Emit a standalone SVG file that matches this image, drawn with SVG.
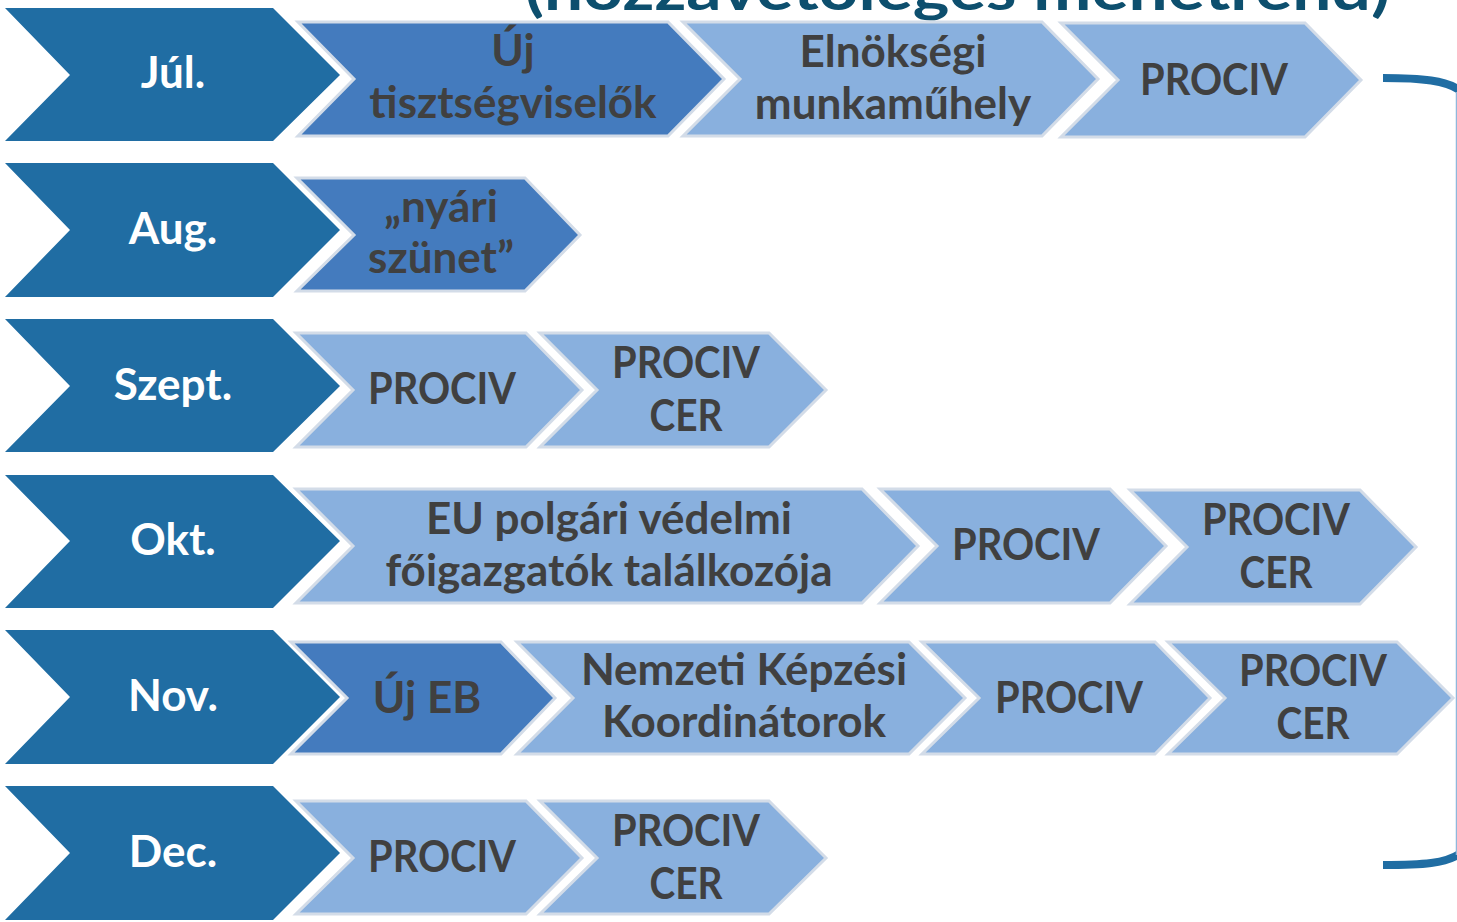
<svg xmlns="http://www.w3.org/2000/svg" width="1457" height="922" viewBox="0 0 1457 922">
<style>
.m{fill:#206DA3}
.d{fill:#447BBE;stroke:#d3dce8;stroke-width:3;stroke-linejoin:miter}
.l{fill:#89B0DE;stroke:#d3dce8;stroke-width:3;stroke-linejoin:miter}
.mt{font-family:Lato,"Liberation Sans",sans-serif;font-weight:700;font-size:44px;fill:#ffffff;text-anchor:middle}
.t{font-family:Lato,"Liberation Sans",sans-serif;font-weight:700;font-size:44px;fill:#404040;text-anchor:middle}
.title{font-family:Lato,"Liberation Sans",sans-serif;font-weight:700;font-size:58px;fill:#0d4f6e}
</style>
<rect width="1457" height="922" fill="#ffffff"/>
<text class="title" x="525" y="10" textLength="865" lengthAdjust="spacingAndGlyphs">(hozzávetőleges menetrend)</text>
<g id="connectors">
<path d="M1383,78 C1420,78 1448,80 1462,92 L1462,852 C1448,864 1420,865 1383,865" fill="none" stroke="#206DA3" stroke-width="8"/>
<line x1="1456.5" y1="92" x2="1456.5" y2="855" stroke="#8fb8dc" stroke-width="1.5"/>
</g>
<g id="jul">
<polygon class="m" points="5,8 273,8 340,75 273,141 5,141 70,75"/>
<text class="mt" x="173" y="88">Júl.</text>
</g>
<g id="jul-uj">
<polygon class="d" points="298,22 668,22 724,79 668,136 298,136 354,79"/>
<text class="t" x="513" y="66">Új</text>
<text class="t" x="513" y="118">tisztségviselők</text>
</g>
<g id="jul-elnok">
<polygon class="l" points="683,22 1042,22 1098,79 1042,136 683,136 740,79"/>
<text class="t" x="893" y="67">Elnökségi</text>
<text class="t" x="893" y="119">munkaműhely</text>
</g>
<g id="jul-prociv">
<polygon class="l" points="1061,23 1305,23 1361,80 1305,137 1061,137 1118,80"/>
<text class="t" x="1214" y="95" textLength="148" lengthAdjust="spacingAndGlyphs">PROCIV</text>
</g>
<g id="aug">
<polygon class="m" points="5,163 273,163 340,230 273,297 5,297 70,230"/>
<text class="mt" x="173" y="244">Aug.</text>
</g>
<g id="aug-nyari">
<polygon class="d" points="297,178 525,178 580,235 525,291 297,291 354,235"/>
<text class="t" x="441" y="222">„nyári</text>
<text class="t" x="441" y="273">szünet”</text>
</g>
<g id="szept">
<polygon class="m" points="5,319 273,319 340,386 273,452 5,452 70,386"/>
<text class="mt" x="173" y="400">Szept.</text>
</g>
<g id="szept-prociv">
<polygon class="l" points="296,333 526,333 582,390 526,447 296,447 353,390"/>
<text class="t" x="442" y="404" textLength="148" lengthAdjust="spacingAndGlyphs">PROCIV</text>
</g>
<g id="szept-cer">
<polygon class="l" points="540,333 769,333 826,390 769,447 540,447 597,390"/>
<text class="t" x="686" y="378" textLength="148" lengthAdjust="spacingAndGlyphs">PROCIV</text>
<text class="t" x="686" y="431" textLength="73" lengthAdjust="spacingAndGlyphs">CER</text>
</g>
<g id="okt">
<polygon class="m" points="5,475 273,475 340,541 273,608 5,608 70,541"/>
<text class="mt" x="173" y="555">Okt.</text>
</g>
<g id="okt-eu">
<polygon class="l" points="296,489 862,489 918,546 862,603 296,603 353,546"/>
<text class="t" x="609" y="534">EU polgári védelmi</text>
<text class="t" x="609" y="586">főigazgatók találkozója</text>
</g>
<g id="okt-prociv">
<polygon class="l" points="880,489 1110,489 1166,546 1110,603 880,603 937,546"/>
<text class="t" x="1026" y="560" textLength="148" lengthAdjust="spacingAndGlyphs">PROCIV</text>
</g>
<g id="okt-cer">
<polygon class="l" points="1130,490 1360,490 1416,547 1360,604 1130,604 1187,547"/>
<text class="t" x="1276" y="535" textLength="148" lengthAdjust="spacingAndGlyphs">PROCIV</text>
<text class="t" x="1276" y="588" textLength="73" lengthAdjust="spacingAndGlyphs">CER</text>
</g>
<g id="nov">
<polygon class="m" points="5,630 273,630 340,697 273,764 5,764 70,697"/>
<text class="mt" x="173" y="711">Nov.</text>
</g>
<g id="nov-ujeb">
<polygon class="d" points="291,642 501,642 555,698 501,754 291,754 347,698"/>
<text class="t" x="427" y="713">Új EB</text>
</g>
<g id="nov-nemzeti">
<polygon class="l" points="517,642 909,642 965,698 909,754 517,754 573,698"/>
<text class="t" x="744" y="685">Nemzeti Képzési</text>
<text class="t" x="744" y="737">Koordinátorok</text>
</g>
<g id="nov-prociv">
<polygon class="l" points="922,642 1155,642 1210,698 1155,754 922,754 979,698"/>
<text class="t" x="1069" y="713" textLength="148" lengthAdjust="spacingAndGlyphs">PROCIV</text>
</g>
<g id="nov-cer">
<polygon class="l" points="1168,642 1397,642 1453,698 1397,754 1168,754 1225,698"/>
<text class="t" x="1313" y="686" textLength="148" lengthAdjust="spacingAndGlyphs">PROCIV</text>
<text class="t" x="1313" y="739" textLength="73" lengthAdjust="spacingAndGlyphs">CER</text>
</g>
<g id="dec">
<polygon class="m" points="5,786 273,786 340,853 273,920 5,920 70,853"/>
<text class="mt" x="173" y="867">Dec.</text>
</g>
<g id="dec-prociv">
<polygon class="l" points="296,801 526,801 582,858 526,914 296,914 353,858"/>
<text class="t" x="442" y="872" textLength="148" lengthAdjust="spacingAndGlyphs">PROCIV</text>
</g>
<g id="dec-cer">
<polygon class="l" points="540,801 769,801 826,858 769,914 540,914 597,858"/>
<text class="t" x="686" y="846" textLength="148" lengthAdjust="spacingAndGlyphs">PROCIV</text>
<text class="t" x="686" y="899" textLength="73" lengthAdjust="spacingAndGlyphs">CER</text>
</g>
</svg>
